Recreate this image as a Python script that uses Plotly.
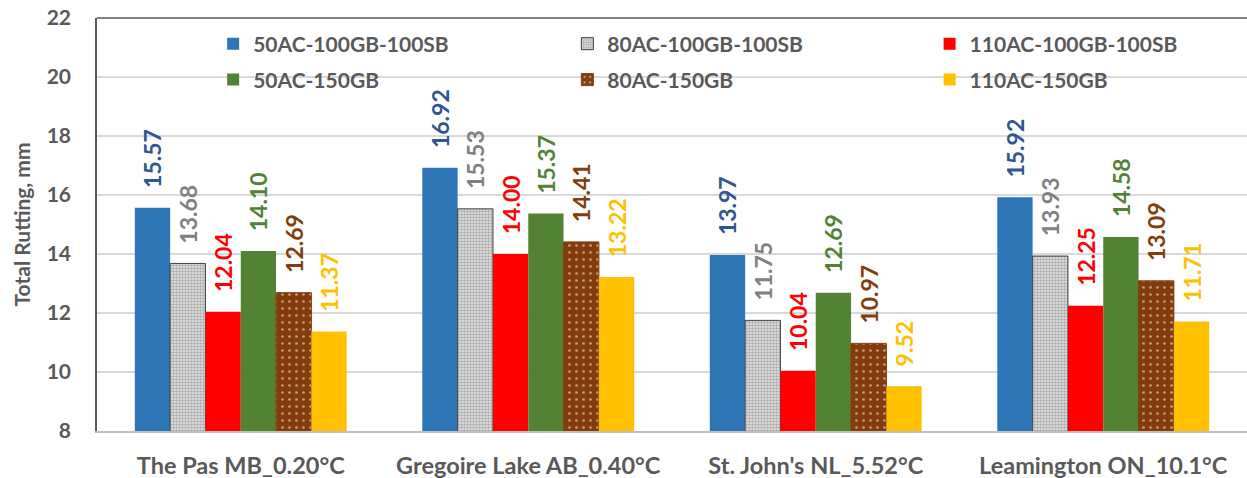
import plotly.graph_objects as go

categories = ["The Pas MB_0.20°C", "Gregoire Lake AB_0.40°C", "St. John's NL_5.52°C", "Leamington ON_10.1°C"]
series_names = ["50AC-100GB-100SB", "80AC-100GB-100SB", "110AC-100GB-100SB",
                "50AC-150GB", "80AC-150GB", "110AC-150GB"]
s50_100 = [15.57, 16.92, 13.97, 15.92]
s80_100 = [13.68, 15.53, 11.75, 13.93]
s110_100 = [12.04, 14.00, 10.04, 12.25]
s50_150 = [14.10, 15.37, 12.69, 14.58]
s80_150 = [12.69, 14.41, 10.97, 13.09]
s110_150 = [11.37, 13.22, 9.52, 11.71]
values = [s50_100, s80_100, s110_100, s50_150, s80_150, s110_150]

bar_colors = ["#2E75B6", "#A6A6A6", "#FF0000", "#548235", "#843C0C", "#FFC000"]
label_colors = ["#2F5597", "#808080", "#FF0000", "#548235", "#843C0C", "#FFC000"]
patterns = [
    None,
    dict(shape=".", fgcolor="#6E6E6E", bgcolor="#E8E8E8", size=3, solidity=0.55),
    None,
    None,
    dict(shape=".", fgcolor="#FFFFFF", bgcolor="#843C0C", size=7, solidity=0.12),
    None,
]
line_colors = ["#2E75B6", "#404040", "#FF0000", "#548235", "#843C0C", "#FFC000"]

FONT = "Lato"
GRAY = "#595959"
PAD = "\u00a0\u00a0\u00a0"  # lifts the rotated value label slightly above the bar

# legend placement (paper coords): columns x, rows y
leg_x = [0.101, 0.409, 0.724]
leg_y = [0.937, 0.850]

fig = go.Figure()
for i, (name, vals) in enumerate(zip(series_names, values)):
    marker = dict(color=bar_colors[i], line=dict(color=line_colors[i], width=1 if patterns[i] else 0))
    if patterns[i]:
        marker["pattern"] = patterns[i]
    legname = "legend" if i == 0 else f"legend{i+1}"
    fig.add_trace(go.Bar(
        x=categories, y=vals, name=name,
        marker=marker,
        text=[PAD + f"{v:.2f}" for v in vals],
        textposition="outside", textangle=-90, constraintext="none",
        textfont=dict(family=FONT, size=23, color=label_colors[i], weight="bold"),
        cliponaxis=False,
        legend=legname,
    ))

layout_legends = {}
for i in range(6):
    key = "legend" if i == 0 else f"legend{i+1}"
    row, col = divmod(i, 3)
    layout_legends[key] = dict(
        x=leg_x[col], y=leg_y[row], xanchor="left", yanchor="middle",
        bgcolor="rgba(0,0,0,0)",
        font=dict(family=FONT, size=21, color=GRAY, weight="bold"),
        itemclick=False, itemdoubleclick=False,
    )

fig.update_layout(
    width=1247, height=478,
    margin=dict(l=97, r=0, t=18, b=47),
    plot_bgcolor="white", paper_bgcolor="white",
    barmode="group", bargap=0.263, bargroupgap=0,
    showlegend=True,
    font=dict(family=FONT, color=GRAY),
    xaxis=dict(
        showline=True, linecolor="#BFBFBF", linewidth=1.5,
        tickfont=dict(family=FONT, size=23.5, color=GRAY, weight="bold"),
        ticks="", ticklabelstandoff=13,
    ),
    yaxis=dict(
        range=[8, 22], dtick=2, tick0=8,
        showline=True, linecolor=GRAY, linewidth=1.5,
        gridcolor="#D9D9D9", gridwidth=1.5, zeroline=False,
        tickfont=dict(family=FONT, size=21, color=GRAY, weight="bold"),
        ticks="", ticklabelstandoff=20,
        title=dict(text="Total Rutting, mm", font=dict(family=FONT, size=21, color=GRAY, weight="bold"), standoff=10),
    ),
    shapes=[dict(type="line", xref="paper", yref="paper", x0=0, x1=1, y0=1, y1=1,
                 line=dict(color=GRAY, width=1.5))],
    **layout_legends,
)

fig.write_html("out.html")
